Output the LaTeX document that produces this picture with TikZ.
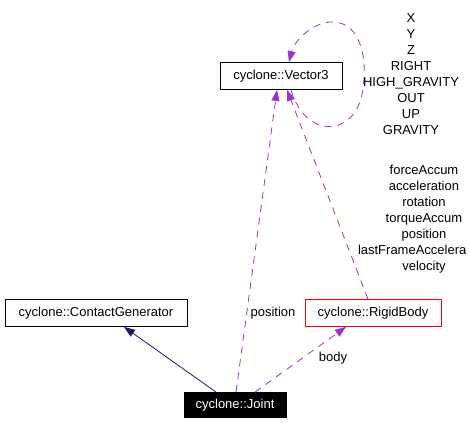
\documentclass[tikz,border=0pt]{standalone}
\usepackage{fontspec}
\setmainfont{Liberation Sans}
\usetikzlibrary{arrows.meta}
\usepackage{xcolor}
\definecolor{EdgePurple}{HTML}{9A32CD}
\definecolor{EdgeNavy}{HTML}{191970}
\definecolor{BoxRed}{HTML}{FF0000}

\tikzset{
    classbox/.style={draw=black, line width=0.8pt, minimum height=27pt, inner sep=0pt, font=\fontsize{13}{16}\selectfont},
    usesedge/.style={EdgePurple, line width=0.8pt, dash pattern=on 7pt off 6pt, -{Triangle[length=11pt,width=8pt]}},
    inheritedge/.style={EdgeNavy, line width=0.8pt, -{Triangle[length=11pt,width=8pt]}},
    edgelabel/.style={font=\fontsize{13}{16}\selectfont, align=center, inner sep=0pt}
}

\begin{document}
\begin{tikzpicture}[x=1pt, y=-1pt]
                \useasboundingbox (0,0) rectangle (469,423);

                % Classes
                \node[classbox, minimum width=122pt] (vector) at (281,76) {cyclone::Vector3};
                \node[classbox, minimum width=182pt] (contactgen) at (96,313) {cyclone::ContactGenerator};
                \node[classbox, draw=BoxRed, minimum width=136pt] (rigidbody) at (373,313) {cyclone::RigidBody};
                \node[classbox, fill=black, text=white, minimum width=102pt, minimum height=25pt] (joint) at (235,405) {cyclone::Joint};

                % Inheritance
                \draw[inheritedge] ([xshift=-19pt]joint.north) -- ([xshift=28pt]contactgen.south);

                % Members
                \draw[usesedge] ([xshift=1pt]joint.north) -- ([xshift=-4pt]vector.south);
                \draw[usesedge] ([xshift=20pt]joint.north) -- ([xshift=-27pt]rigidbody.south);
                \draw[usesedge] ([xshift=-5pt]rigidbody.north) -- ([xshift=6pt]vector.south);
                \draw[usesedge] ([xshift=10pt]vector.south) .. controls (305,138) and (352,138) .. (362,95)
                    .. controls (370,50) and (356,20) .. (330,22)
                    .. controls (310,24) and (294,42) .. ([xshift=8pt]vector.north);

                % Labels
                \node[edgelabel] (poslabel) at (273,313) {position};
                \node[edgelabel] (bodylabel) at (333,358) {body};
                \node[edgelabel] (vectorlabel) at (411,74.5) {X\\Y\\Z\\RIGHT\\HIGH\_GRAVITY\\OUT\\UP\\GRAVITY};
                \node[edgelabel] (bodymembers) at (424,219.5) {forceAccum\\acceleration\\rotation\\torqueAccum\\position\\\makebox[132pt][l]{lastFrameAccelera}\\velocity};
            \end{tikzpicture}
\end{document}
